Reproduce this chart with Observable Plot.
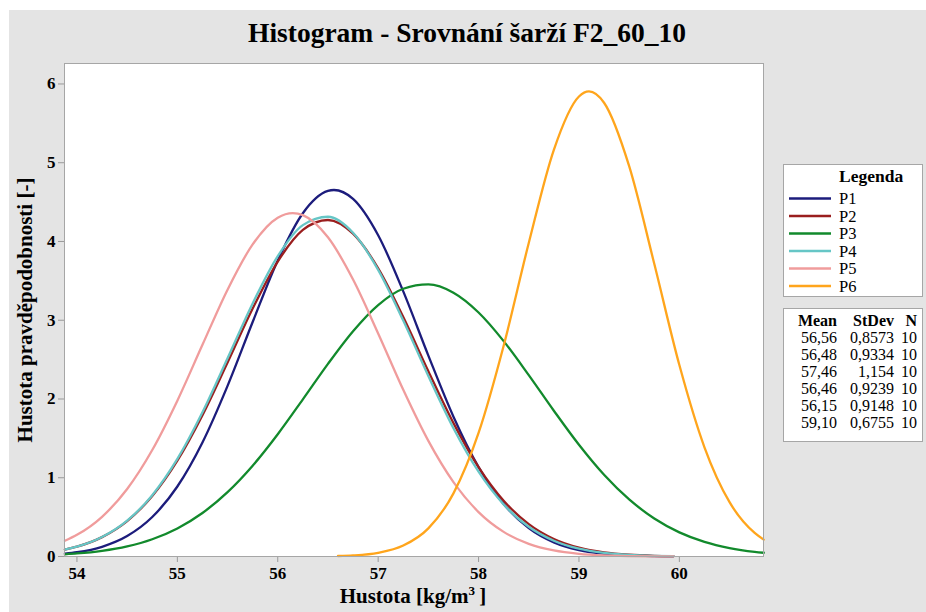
<!DOCTYPE html>
<html>
<head>
<meta charset="utf-8">
<script src="https://cdn.jsdelivr.net/npm/d3@7"></script>
<script src="https://cdn.jsdelivr.net/npm/@observablehq/plot@0.6"></script>
<style>
  html, body { margin: 0; padding: 0; background: #ffffff; }
  body { width: 926px; height: 612px; overflow: hidden; position: relative; font-family: "Liberation Serif", "Times New Roman", serif; }
  #bg { position: absolute; left: 9px; top: 10px; width: 917px; height: 602px; background: #e4e4e4; }
  #chart { position: absolute; left: 0; top: 0; }
  #overlay { position: absolute; left: 0; top: 0; pointer-events: none; }
</style>
</head>
<body>
<div id="bg"></div>
<div id="chart"></div>
<svg id="overlay" width="926" height="612"></svg>
<script>
// ---------- data ----------
const seriesNames = ["P1", "P2", "P3", "P4", "P5", "P6"];
const seriesColors = ["#1c1c7c", "#9a1e1e", "#128a2c", "#66c6c6", "#f09c9c", "#ffa51c"];

const meanLabels = ["56,56", "56,48", "57,46", "56,46", "56,15", "59,10"];
const stdevLabels = ["0,8573", "0,9334", "1,154", "0,9239", "0,9148", "0,6755"];
const nLabels = ["10", "10", "10", "10", "10", "10"];

const xTicks = [54, 55, 56, 57, 58, 59, 60];
const yTicks = [0, 1, 2, 3, 4, 5, 6];

const xP1 = [53.88, 54.0, 54.25, 54.5, 54.75, 55.0, 55.25, 55.5, 55.75, 56.0, 56.25, 56.5, 56.56, 56.75, 57.0, 57.25, 57.5, 57.75, 58.0, 58.25, 58.5, 58.75, 59.0, 59.25, 59.5, 59.75, 59.94];
const yP1 = [0.0351, 0.0539, 0.1234, 0.2594, 0.5010, 0.8887, 1.4479, 2.1667, 2.978, 3.7596, 4.359, 4.642, 4.6535, 4.5406, 4.0793, 3.3659, 2.5511, 1.7757, 1.1355, 0.6667, 0.3596, 0.1781, 0.0811, 0.0339, 0.0130, 0.0046, 0.0021];

const xP2 = [53.88, 54.0, 54.25, 54.5, 54.75, 55.0, 55.25, 55.5, 55.75, 56.0, 56.25, 56.5, 56.75, 57.0, 57.25, 57.5, 57.75, 58.0, 58.25, 58.5, 58.75, 59.0, 59.25, 59.5, 59.75, 59.94];
const yP2 = [0.0883, 0.1253, 0.2463, 0.4505, 0.7672, 1.2159, 1.7937, 2.4630, 3.1480, 3.7448, 4.1463, 4.2731, 4.0990, 3.6597, 3.0413, 2.3525, 1.6938, 1.1349, 0.7079, 0.4110, 0.2221, 0.1117, 0.0523, 0.0228, 0.0092, 0.0046];

const xP3 = [53.88, 54.0, 54.25, 54.5, 54.75, 55.0, 55.25, 55.5, 55.75, 56.0, 56.25, 56.5, 56.75, 57.0, 57.25, 57.5, 57.75, 58.0, 58.25, 58.5, 58.75, 59.0, 59.25, 59.5, 59.75, 60.0, 60.25, 60.5, 60.75, 60.84];
const yP3 = [0.0281, 0.0386, 0.0722, 0.1288, 0.2194, 0.3564, 0.5525, 0.8172, 1.1532, 1.5529, 1.9952, 2.4460, 2.8609, 3.1931, 3.4003, 3.4550, 3.3496, 3.0985, 2.7350, 2.3033, 1.8508, 1.4191, 1.0381, 0.7247, 0.4826, 0.3067, 0.1860, 0.1076, 0.0594, 0.0474];

const xP4 = [53.88, 54.0, 54.25, 54.5, 54.75, 55.0, 55.25, 55.5, 55.75, 56.0, 56.25, 56.5, 56.75, 57.0, 57.25, 57.5, 57.75, 58.0, 58.25, 58.5, 58.75, 59.0, 59.25, 59.5, 59.75, 59.94];
const yP4 = [0.0875, 0.1247, 0.2471, 0.4549, 0.7787, 1.2388, 1.8314, 2.5168, 3.2139, 3.8144, 4.2079, 4.3139, 4.1104, 3.6400, 2.9957, 2.2915, 1.6290, 1.0763, 0.6611, 0.3772, 0.2001, 0.0986, 0.0452, 0.0192, 0.0076, 0.0037];

const xP5 = [53.88, 54.0, 54.25, 54.5, 54.75, 55.0, 55.25, 55.5, 55.75, 56.0, 56.15, 56.25, 56.5, 56.75, 57.0, 57.25, 57.5, 57.75, 58.0, 58.25, 58.5, 58.75, 59.0, 59.25, 59.5, 59.75, 59.94];
const yP5 = [0.2007, 0.2755, 0.5044, 0.8573, 1.3520, 1.9788, 2.6877, 3.3882, 3.9634, 4.3027, 4.3610, 4.3350, 4.0532, 3.5170, 2.8321, 2.1166, 1.4679, 0.9448, 0.5643, 0.3128, 0.1609, 0.0768, 0.0340, 0.0140, 0.0053, 0.0019, 0.0009];

const xP6 = [56.60, 56.75, 57.0, 57.25, 57.5, 57.75, 58.0, 58.25, 58.5, 58.75, 59.0, 59.1, 59.25, 59.5, 59.75, 60.0, 60.25, 60.5, 60.75, 60.84];
const yP6 = [0.0063, 0.0139, 0.0471, 0.1389, 0.3573, 0.8017, 1.5684, 2.6758, 3.9807, 5.1642, 5.8415, 5.9059, 5.7620, 4.9563, 3.7171, 2.4311, 1.3866, 0.6895, 0.2990, 0.2140];

// ---------- build table for Plot ----------
const xsAll = [xP1, xP2, xP3, xP4, xP5, xP6];
const ysAll = [yP1, yP2, yP3, yP4, yP5, yP6];
const rows = [];
seriesNames.forEach((s, i) => {
  xsAll[i].forEach((xv, j) => rows.push({series: s, x: xv, y: ysAll[i][j]}));
});

const FONT = '"Liberation Serif", "Times New Roman", serif';

const chart = Plot.plot({
  width: 926,
  height: 612,
  marginLeft: 64,
  marginRight: 163,
  marginTop: 63,
  marginBottom: 56,
  style: {background: "transparent", fontFamily: FONT, fontSize: "17px", fontWeight: "bold", color: "black"},
  x: {domain: [53.876, 60.838], label: null},
  y: {domain: [0, 6.26], label: null},
  color: {domain: seriesNames, range: seriesColors},
  marks: [
    Plot.frame({fill: "white", stroke: "none"}),
    Plot.axisX({ticks: xTicks, tickFormat: d => String(d), tickSize: 6, tickPadding: 4, stroke: "#9a9a9a", fill: "black", label: null}),
    Plot.axisY({ticks: yTicks, tickFormat: d => String(d), tickSize: 6, tickPadding: 3, stroke: "#9a9a9a", fill: "black", label: null}),
    Plot.line(rows, {x: "x", y: "y", z: "series", stroke: "series", strokeWidth: 2.3, curve: "monotone-x"}),
    Plot.frame({stroke: "#a6a6a6", fill: "none"})
  ]
});
document.getElementById("chart").appendChild(chart);

// ---------- overlay: titles, legend, stats ----------
const ov = d3.select("#overlay").style("font-family", FONT);

ov.append("text")
  .attr("x", 467).attr("y", 42)
  .attr("text-anchor", "middle")
  .style("font-size", "27.5px").style("font-weight", "bold")
  .text("Histogram - Srovnání šarží F2_60_10");

ov.append("text")
  .attr("transform", "translate(32,310) rotate(-90)")
  .attr("text-anchor", "middle")
  .style("font-size", "21px").style("font-weight", "bold")
  .text("Hustota pravděpodobnosti [-]");

const xl = ov.append("text")
  .attr("x", 413).attr("y", 603)
  .attr("text-anchor", "middle")
  .style("font-size", "21px").style("font-weight", "bold");
xl.append("tspan").text("Hustota [kg/m");
xl.append("tspan").attr("dy", -8).style("font-size", "13px").text("3");
xl.append("tspan").attr("dy", 8).text("\u2009]");

// legend box
ov.append("rect").attr("x", 783.5).attr("y", 164.5).attr("width", 139).attr("height", 132)
  .attr("fill", "white").attr("stroke", "#a6a6a6");
ov.append("text").attr("x", 839).attr("y", 182)
  .style("font-size", "17.5px").style("font-weight", "bold").text("Legenda");
seriesNames.forEach((s, i) => {
  const cy = 198.5 + i * 17.5;
  ov.append("line").attr("x1", 789).attr("x2", 831).attr("y1", cy).attr("y2", cy)
    .attr("stroke", seriesColors[i]).attr("stroke-width", 2.5);
  ov.append("text").attr("x", 839).attr("y", cy + 5.5)
    .style("font-size", "16.5px").text(s);
});

// stats box
ov.append("rect").attr("x", 783.5).attr("y", 308.5).attr("width", 139).attr("height", 133)
  .attr("fill", "white").attr("stroke", "#a6a6a6");
const colX = [837, 894, 917];
["Mean", "StDev", "N"].forEach((h, k) => {
  ov.append("text").attr("x", colX[k]).attr("y", 326).attr("text-anchor", "end")
    .style("font-size", "16px").style("font-weight", "bold").text(h);
});
meanLabels.forEach((m, i) => {
  const by = 343 + i * 17;
  [m, stdevLabels[i], nLabels[i]].forEach((t, k) => {
    ov.append("text").attr("x", colX[k]).attr("y", by).attr("text-anchor", "end")
      .style("font-size", "16px").text(t);
  });
});
</script>
</body>
</html>
